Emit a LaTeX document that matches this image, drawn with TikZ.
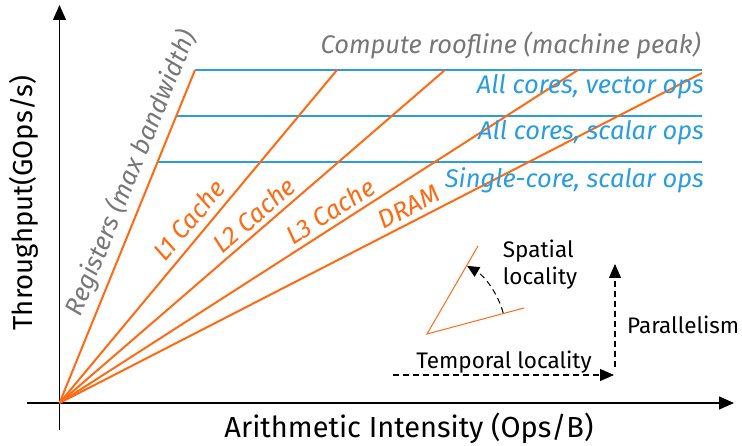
\documentclass[tikz,border=0pt]{standalone}
\usepackage{fontspec}
\setmainfont{Fira Sans}
\usetikzlibrary{arrows.meta}
\definecolor{roofor}{HTML}{FF6A13}
\definecolor{roofbl}{HTML}{2A9DE0}
\definecolor{roofgr}{HTML}{777777}
\begin{document}
\begin{tikzpicture}[x=1pt,y=1pt,
  axis/.style={line width=1.3pt,-{Triangle[length=15pt,width=13pt]}},
  bw/.style={roofor,line width=2pt},
  peak/.style={roofbl,line width=2pt},
  txt/.style={inner sep=0pt,font=\fontsize{22.5}{27}\selectfont},
  ital/.style={inner sep=0pt,font=\fontsize{25.5}{30}\selectfont\itshape},
  dasharrow/.style={line width=1.1pt,dash pattern=on 6pt off 4pt,-{Triangle[length=14pt,width=12pt]}},
  small/.style={roofor,line width=1pt}]
\useasboundingbox (0,0) rectangle (742,446);
% axes
\coordinate (O) at (59.5,43);
\coordinate (ybot) at (59.5,16);
\coordinate (ytop) at (59.5,441);
\coordinate (xl) at (27,43);
\coordinate (xr) at (734,43);
\draw[axis] (ybot) -- (ytop);
\draw[axis] (xl) -- (xr);
% roof end points
\coordinate (reg) at (195,376);
\coordinate (l1) at (337,376);
\coordinate (l2) at (445,376);
\coordinate (l3) at (578,376);
\coordinate (dram) at (702,373);
% blue compute roofs
\coordinate (b1s) at (195,376);  \coordinate (b1e) at (702,376);
\coordinate (b2s) at (177,329.5);\coordinate (b2e) at (702,329.5);
\coordinate (b3s) at (158,283.5);\coordinate (b3e) at (702,283.5);
\draw[peak] (b1s) -- (b1e);
\draw[peak] (b2s) -- (b2e);
\draw[peak] (b3s) -- (b3e);
\draw[bw] (O) -- (reg);
\draw[bw] (O) -- (l1);
\draw[bw] (O) -- (l2);
\draw[bw] (O) -- (l3);
\draw[bw] (O) -- (dram);
% roof labels
\node[ital,text=roofgr,anchor=east] (tcomp) at (701,401) {Compute roofline (machine peak)};
\node[ital,text=roofbl,anchor=east] (tvec) at (704,359) {All cores, vector ops};
\node[ital,text=roofbl,anchor=east] (tsca) at (704,313) {All cores, scalar ops};
\node[ital,text=roofbl,anchor=east] (tsgl) at (704,266) {Single-core, scalar ops};
\node[ital,text=roofgr,rotate=67.8] (treg) at (131,273) {Registers (max bandwidth)};
\node[ital,text=roofor,rotate=50.1] (tl1) at (189,226) {L1 Cache};
\node[ital,text=roofor,rotate=40.8] (tl2) at (254,231) {L2 Cache};
\node[ital,text=roofor,rotate=32.7] (tl3) at (330,235) {L3 Cache};
\node[ital,text=roofor,rotate=27.2] (tdram) at (409,239) {DRAM};
% axis labels
\node[inner sep=0pt,font=\fontsize{27.5}{32}\selectfont,rotate=90] (ylab) at (24,243) {Throughput(GOps/s)};
\node[inner sep=0pt,font=\fontsize{29}{34}\selectfont] (xlab) at (409,18) {Arithmetic Intensity (Ops/B)};
% locality sketch
\coordinate (V) at (427,112);
\coordinate (vup) at (478,200);
\coordinate (vlo) at (524,138);
\coordinate (arcS) at (503.2,133);
\draw[small] (vup) -- (V) -- (vlo);
\draw[dasharrow,line width=1pt,-{Triangle[length=12pt,width=11pt]}] (arcS) arc[start angle=15.4,end angle=59.5,radius=79];
\node[txt,align=left] (tspat) at (540,181) {Spatial\\locality};
% temporal / parallelism arrows
\coordinate (ts) at (393,71);
\coordinate (te) at (614,71);
\coordinate (ps) at (615,79);
\coordinate (pe) at (615,182);
\draw[dasharrow] (ts) -- (te);
\draw[dasharrow] (ps) -- (pe);
\node[txt] (ttemp) at (504,84) {Temporal locality};
\node[txt,anchor=west] (tpar) at (627,121) {Parallelism};
\end{tikzpicture}
\end{document}
